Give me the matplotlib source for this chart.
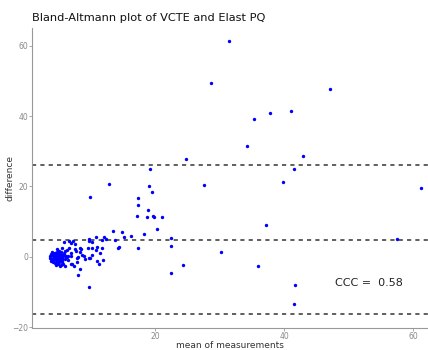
import matplotlib.pyplot as plt

# means and differences
mean_vals = [
    31.5, 28.7, 47.1, 35.3, 37.8, 41.1, 34.3, 42.9, 41.5, 39.8,
    37.1, 36.0, 61.2, 41.7, 41.5, 30.2, 24.7, 27.6, 57.5, 24.3,
    22.5, 22.5, 22.4,
    19.2, 12.8, 9.9, 19.1, 19.5, 17.4, 17.3, 18.8, 17.2, 18.7,
    19.6, 19.8, 21.0, 20.2, 18.2, 17.3, 16.3, 15.2, 14.8, 13.5,
    14.2, 14.4, 13.7, 12.3, 12.1, 11.7, 10.8, 10.2, 9.7, 11.8,
    11.5, 10.9, 10.8, 9.5, 10.2, 9.8, 9.1, 11.0, 11.2, 11.9,
    8.5, 8.4, 8.6, 8.0, 7.7, 7.6, 6.6, 7.3, 6.9, 7.9,
    7.4, 6.9, 8.4, 8.0, 9.8, 7.0,
    5.8, 6.6, 5.5, 4.8, 6.3, 7.6, 8.4, 9.8, 10.2, 6.9,
    7.9, 8.9, 9.9, 7.1, 6.0,
    3.7, 3.9, 4.0, 4.1, 4.2, 4.3, 4.4, 4.5, 4.6, 4.7,
    4.8, 4.9, 5.0, 5.1, 5.2, 5.3, 5.4, 5.5, 5.6, 5.7,
    3.8, 4.0, 4.2, 4.4, 4.6, 4.8, 5.0, 5.2, 5.4, 5.6,
    5.8, 6.0, 6.2, 6.4, 4.1, 4.3, 4.5, 4.7, 4.9, 5.1,
    5.3, 5.5, 5.9, 6.1, 3.6, 4.4, 4.9, 5.4, 6.3, 5.0,
    4.6, 5.2, 5.7, 6.5, 3.9, 4.7, 5.5, 6.0, 4.2, 5.3,
]
diff_vals = [
    61.4, 49.4, 47.7, 39.2, 40.9, 41.5, 31.5, 28.7, 25.0, 21.3,
    9.1, -2.6, 19.6, -8.0, -13.4, 1.4, 27.8, 20.3, 5.2, -2.3,
    -4.6, 3.1, 5.3,
    25.0, 20.6, 17.0, 20.0, 18.4, 16.7, 14.7, 13.2, 11.7, 11.2,
    11.6, 11.3, 11.3, 7.9, 6.5, 2.6, 5.8, 5.5, 7.0, 7.2,
    2.5, 2.8, 4.7, 5.0, 5.5, 4.8, 5.6, 4.2, 5.0, 2.6,
    1.0, 2.9, 2.0, 2.5, 0.6, -0.4, -0.7, -1.3, -1.9, -1.0,
    2.2, 1.3, 0.6, -0.1, 1.7, 3.7, 2.6, 4.5, 3.9, -1.5,
    -2.5, -2.0, -3.4, -5.2, -8.5, 0.1,
    4.2, 4.6, 2.5, 2.3, 2.0, 2.3, 2.6, 4.6, 2.6, 1.0,
    -0.2, 0.1, -0.4, -2.1, -2.7,
    0.2, -0.5, 0.8, -0.2, 0.4, -1.0, 0.1, 1.2, -0.6, 0.5,
    -0.1, 0.9, -1.4, 0.3, -0.8, 1.0, -0.3, 0.6, -1.2, 0.2,
    -1.1, 1.3, -1.5, 0.7, -1.7, 1.4, 0.0, -0.9, 1.5, -0.4,
    0.8, -0.6, 0.3, -1.0, 0.5, -0.2, 1.1, -1.3, 0.6, -0.5,
    0.4, -1.6, 1.2, -0.1, -0.3, -1.8, -2.0, -2.2, 0.0, 1.7,
    -2.4, 0.9, -1.9, 0.1, 0.9, 0.3, -0.7, 1.6, -0.9, -2.6,
]
loa_lines = [26.1, 4.8, -16.3]
ccc = 0.58

fig = plt.figure(figsize=(4.28, 3.5), dpi=100)
ax = fig.add_axes([0.075, 0.063, 0.925, 0.857])

ax.scatter(mean_vals, diff_vals, s=6, color='#0000ff', linewidths=0, zorder=3)
for v in loa_lines:
    ax.axhline(v, color='#444444', linestyle=(0, (2.5, 2.5)), linewidth=1.2, zorder=2)

ax.text(47.9, -7.4, 'CCC =  %.2f' % ccc, fontsize=8, va='center', ha='left', color='#222222')

ax.set_xlim(0.9, 62.3)
ax.set_ylim(-20.2, 65)
ax.set_xticks([20, 40, 60])
ax.set_yticks([-20, 0, 20, 40, 60])
for s in ['top', 'right']:
    ax.spines[s].set_visible(False)
for s in ['left', 'bottom']:
    ax.spines[s].set_color('#999999')
    ax.spines[s].set_linewidth(0.8)
ax.tick_params(colors='#999999', labelsize=5.5, length=2, width=0.6, pad=1)
for lab in ax.get_xticklabels() + ax.get_yticklabels():
    lab.set_color('#888888')

ax.set_xlabel('mean of measurements', fontsize=6.5, color='#333333', va='center')
ax.set_ylabel('difference', fontsize=6.5, color='#333333', va='center')
ax.xaxis.set_label_coords(0.5, -0.058)
ax.yaxis.set_label_coords(-0.056, 0.5)
fig.text(0.075, 0.948, 'Bland-Altmann plot of VCTE and Elast PQ', fontsize=8.2,
         ha='left', va='center', color='#111111')

plt.savefig('out.png', dpi=100)
